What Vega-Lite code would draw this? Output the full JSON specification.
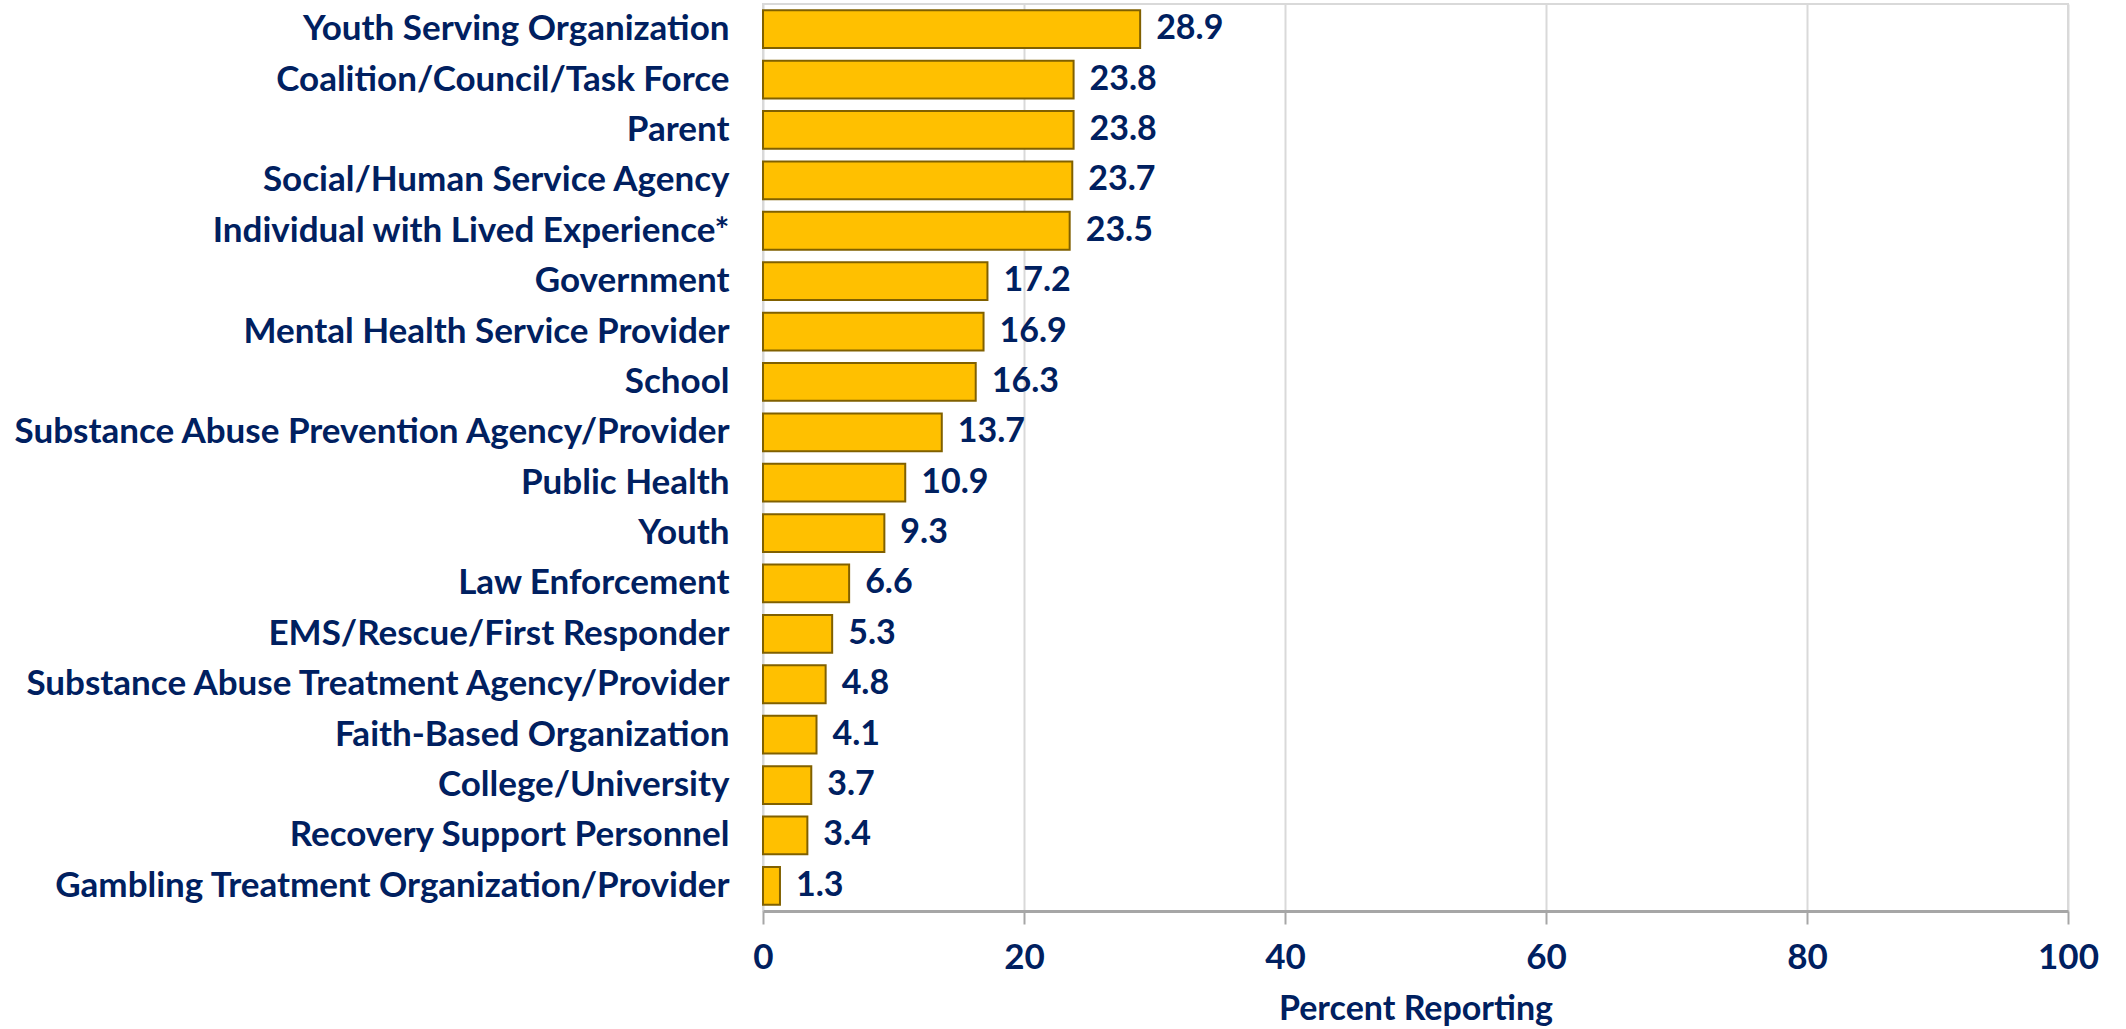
{
  "$schema": "https://vega.github.io/schema/vega-lite/v6.json",
  "autosize": {"type": "none"},
  "width": 1305,
  "height": 907,
  "padding": {"left": 763, "top": 4, "right": 58, "bottom": 118},
  "background": "white",
  "config": {
    "view": {"stroke": "#D9D9D9", "strokeWidth": 2},
    "font": "Lato"
  },
  "data": {
    "values": [
      {"org": "Youth Serving Organization", "pct": 28.9},
      {"org": "Coalition/Council/Task Force", "pct": 23.8},
      {"org": "Parent", "pct": 23.8},
      {"org": "Social/Human Service Agency", "pct": 23.7},
      {"org": "Individual with Lived Experience*", "pct": 23.5},
      {"org": "Government", "pct": 17.2},
      {"org": "Mental Health Service Provider", "pct": 16.9},
      {"org": "School", "pct": 16.3},
      {"org": "Substance Abuse Prevention Agency/Provider", "pct": 13.7},
      {"org": "Public Health", "pct": 10.9},
      {"org": "Youth ", "pct": 9.3},
      {"org": "Law Enforcement", "pct": 6.6},
      {"org": "EMS/Rescue/First Responder", "pct": 5.3},
      {"org": "Substance Abuse Treatment Agency/Provider", "pct": 4.8},
      {"org": "Faith-Based Organization", "pct": 4.1},
      {"org": "College/University", "pct": 3.7},
      {"org": "Recovery Support Personnel", "pct": 3.4},
      {"org": "Gambling Treatment Organization/Provider", "pct": 1.3}
    ]
  },
  "encoding": {
    "y": {
      "field": "org", "type": "nominal", "sort": null,
      "scale": {"paddingInner": 0.25, "paddingOuter": 0.125},
      "axis": {
        "title": null, "ticks": false, "domain": false,
        "labelFont": "Lato", "labelFontWeight": "bold", "labelFontSize": 35,
        "labelColor": "#002060", "labelPadding": 34, "labelLimit": 800
      }
    },
    "x": {
      "field": "pct", "type": "quantitative",
      "scale": {"domain": [0, 100]},
      "axis": {
        "title": "Percent Reporting", "titleFont": "Lato", "titleFontWeight": "bold",
        "titleFontSize": 34, "titleColor": "#002060", "titlePadding": 17,
        "values": [0, 20, 40, 60, 80, 100], "format": "d",
        "labelFont": "Lato", "labelFontWeight": "bold", "labelFontSize": 35,
        "labelColor": "#002060", "labelPadding": 16, "labelFlush": false,
        "grid": true, "gridColor": "#D9D9D9", "gridWidth": 2,
        "domainColor": "#A6A6A6", "domainWidth": 3,
        "tickColor": "#A6A6A6", "tickWidth": 2, "tickSize": 13
      }
    }
  },
  "layer": [
    {"mark": {"type": "bar", "color": "#FFC000", "stroke": "#806000", "strokeWidth": 2}},
    {
      "mark": {"type": "text", "align": "left", "baseline": "middle", "dx": 16,
               "font": "Lato", "fontWeight": "bold", "fontSize": 34, "color": "#002060"},
      "encoding": {"text": {"field": "pct", "type": "quantitative", "format": ".1f"}}
    }
  ]
}
